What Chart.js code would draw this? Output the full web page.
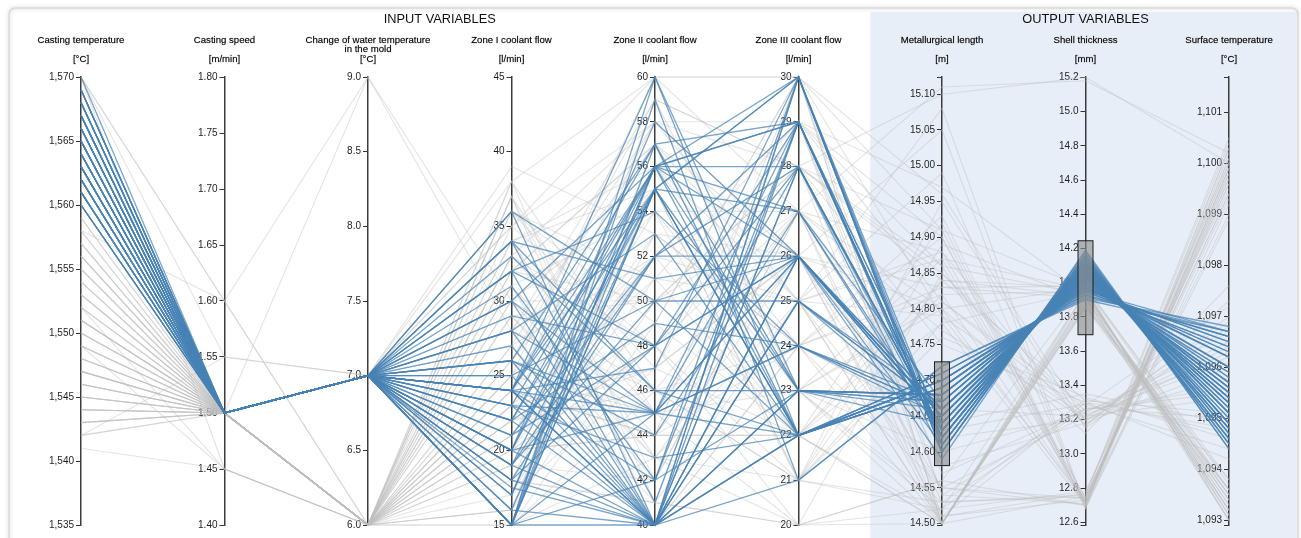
<!DOCTYPE html>
<html>
<head>
<meta charset="utf-8">
<title>Continuous casting – parallel coordinates</title>
<script src="https://cdn.jsdelivr.net/npm/chart.js@4.4.1/dist/chart.umd.min.js"></script>
<style>
  html, body { margin: 0; padding: 0; background: #fff; overflow: hidden; }
  #wrap { width: 1301px; height: 538px; position: relative; }
</style>
</head>
<body>
<div id="wrap"><canvas id="pc" width="1301" height="538"></canvas></div>
<script>
// ---- Axis definitions ----
const axisNames = [
  ['Casting temperature'], ['Casting speed'], ['Change of water temperature', 'in the mold'],
  ['Zone I coolant flow'], ['Zone II coolant flow'], ['Zone III coolant flow'],
  ['Metallurgical length'], ['Shell thickness'], ['Surface temperature']
];
const axisUnits = ['[°C]', '[m/min]', '[°C]', '[l/min]', '[l/min]', '[l/min]', '[m]', '[mm]', '[°C]'];
const axisMin = [1535, 1.40, 6.0, 15, 40, 20, 14.498, 12.584, 1092.91];
const axisMax = [1570, 1.80, 9.0, 45, 60, 30, 15.124, 15.202, 1101.69];
const axisStep = [5, 0.05, 0.5, 5, 2, 1, 0.05, 0.2, 1];
const axisDecimals = [0, 2, 1, 0, 0, 0, 2, 1, 0];
const groupTitles = ['INPUT VARIABLES', 'OUTPUT VARIABLES'];
const inputAxisCount = 6;

// ---- Brushed ranges (selection filters) ----
const metLengthBrush = [14.581, 14.726];
const shellBrush = [13.696, 14.245];

// ---- Records, one value per record and variable ----
const castingTemp = [
  1570,1569,1569,1568,1568,1568,1567,1567,1566,1566,1566,
  1565,1565,1565,1565,1564,1564,1564,1563,1563,1563,1562,
  1562,1562,1561,1561,1561,1560,1560,1560,1569,1568,1567,
  1566,1565,1564,1563,1562,1561,1567,1566,1565,1564,1563,
  1568,1567,1566,1565,1564,1563,1562,1561,1560,1569,1565,
  1570,1570,1570,1570,1559,1558,1557,1556,1556,1553,1552,
  1551,1550,1549,1548,1547,1546,1546,1545,1544,1544,1543,
  1542,1559,1558,1555,1554,1552,1550,1548,1547,1545,1543,
  1541,1553,1551,1549,1546,1544,1542,1557,1555,1552,1548,
  1545,1543,1550,1547,1544,1556,1553,1549,1546,1551,1554,
  1566,1564,1562,1568,1565,1563,1567,1561,1569,1564,1566,1562,1565,1567,1563,
  1557,1554,1551,1549,1547,1545,1543,1552,1556,1548,1544,
  1553,1550,1546,1558,1542,1555,1549,1547,1551,1545,1560
];
const castingSpeed = [
  1.50,1.50,1.50,1.50,1.50,1.50,1.50,1.50,1.50,1.50,1.50,
  1.50,1.50,1.50,1.50,1.50,1.50,1.50,1.50,1.50,1.50,1.50,
  1.50,1.50,1.50,1.50,1.50,1.50,1.50,1.50,1.50,1.50,1.50,
  1.50,1.50,1.50,1.50,1.50,1.50,1.50,1.50,1.50,1.50,1.50,
  1.50,1.50,1.50,1.50,1.50,1.50,1.50,1.50,1.50,1.50,1.50,
  1.60,1.55,1.45,1.60,1.50,1.50,1.50,1.50,1.50,1.50,1.50,
  1.50,1.50,1.50,1.50,1.50,1.50,1.50,1.50,1.50,1.50,1.50,
  1.55,1.50,1.50,1.50,1.50,1.45,1.50,1.50,1.50,1.50,1.50,
  1.45,1.50,1.50,1.50,1.50,1.50,1.50,1.50,1.50,1.50,1.50,
  1.50,1.50,1.50,1.50,1.50,1.50,1.50,1.50,1.50,1.50,1.50,
  1.50,1.50,1.50,1.50,1.50,1.50,1.50,1.50,1.50,1.50,1.50,1.50,1.50,1.50,1.50,
  1.50,1.50,1.50,1.45,1.50,1.50,1.50,1.50,1.50,1.50,1.50,
  1.50,1.50,1.50,1.60,1.50,1.50,1.50,1.50,1.50,1.50,1.50
];
const waterTempChange = [
  7.0,7.0,7.0,7.0,7.0,7.0,7.0,7.0,7.0,7.0,7.0,
  7.0,7.0,7.0,7.0,7.0,7.0,7.0,7.0,7.0,7.0,7.0,
  7.0,7.0,7.0,7.0,7.0,7.0,7.0,7.0,7.0,7.0,7.0,
  7.0,7.0,7.0,7.0,7.0,7.0,7.0,7.0,7.0,7.0,7.0,
  7.0,7.0,7.0,7.0,7.0,7.0,7.0,7.0,7.0,7.0,7.0,
  9.0,7.0,6.0,6.0,6.0,6.0,6.0,6.0,7.0,6.0,6.0,
  7.0,6.0,6.0,6.0,7.0,6.0,6.0,7.0,6.0,6.0,7.0,
  7.0,6.0,7.0,6.0,6.0,6.0,7.0,6.0,6.0,7.0,6.0,
  6.0,7.0,6.0,6.0,7.0,6.0,6.0,9.0,7.0,6.0,6.0,
  7.0,6.0,6.0,7.0,6.0,6.0,7.0,6.0,6.0,7.0,6.0,
  7.0,7.0,7.0,7.0,7.0,7.0,7.0,7.0,7.0,7.0,7.0,7.0,7.0,7.0,7.0,
  6.0,6.0,7.0,6.0,6.0,7.0,6.0,6.0,7.0,6.0,6.0,
  6.0,7.0,6.0,6.0,6.0,7.0,6.0,6.0,7.0,6.0,6.0
];
const zone1Flow = [
  15,15,15,15,15,15,16,17,17.5,18,19,
  19,20,20,20,21,22,22,23,23,23,24,
  24,24,24,24,24,25,25,26,26,27,28,
  28,29,30,30,31,32,32,33,34,34,36,
  36,15,24,20,23,19,22,26,16,18,24,
  30,35,20,38,15,22,27,33,18,29,24,
  36,16,31,25,20,34,19,28,37,23,17,
  32,26,39,21,30,15,35,22,27,18,33,
  24,29,16,37,20,31,25,28,19,36,23,
  17,34,21,30,26,38,15,32,24,20,35,
  28,17,24,20,32,15,26,22,19,30,24,18,15,34,21,
  21,33,27,18,36,24,30,16,38,25,20,
  29,34,22,19,31,26,37,17,28,23,32
];
const zone2Flow = [
  56,55,40,57,45,60,40,56,40,52,40,
  55,45,56,40,48,40,55,45,56,40,40,
  55,45,42,56,40,50,40,57,45,40,53,
  40,48,40,56,42,40,54,46,41,51,40,
  50,59,47,58,43,52,49,44,55,48,60,
  50,58,44,60,46,52,41,48,55,43,58,
  47,50,40,54,44,56,42,59,45,51,47,
  57,40,53,49,55,43,60,46,52,41,58,
  44,50,56,42,48,54,45,57,40,51,47,
  59,43,53,46,55,41,49,57,44,52,48,
  45,56,40,55,48,42,40,56,50,45,57,40,55,46,52,
  54,45,58,41,49,52,43,57,46,60,48,
  42,55,47,51,44,59,40,53,46,56,50
];
const zone3Flow = [
  29,30,26,22,28,23,30,26,22,29,25,
  22,26,30,23,26,29,22,24,28,21,26,
  30,22,29,23,28,22,26,23,29,25,22,
  30,26,22,27,23,28,24,22,29,26,23,
  25,21,30,26,22,28,24,27,23,29,22,
  27,28,24,30,21,25,20,27,23,26,29,
  22,28,24,21,30,25,27,23,20,29,26,
  22,28,24,30,21,25,27,23,29,20,26,
  22,28,24,30,21,27,23,25,29,22,26,
  28,20,24,27,21,25,30,23,26,22,28,
  26,29,23,22,28,30,25,22,26,24,29,22,27,23,26,
  23,27,25,29,22,28,21,26,24,30,20,
  27,23,29,25,22,28,24,26,21,29,25
];
const metLength = [
  14.64,14.62,14.66,14.70,14.63,14.68,14.61,14.65,14.71,14.62,14.67,
  14.69,14.64,14.60,14.68,14.65,14.62,14.70,14.66,14.63,14.72,14.64,
  14.61,14.69,14.62,14.67,14.63,14.70,14.65,14.68,14.62,14.66,14.71,
  14.60,14.64,14.69,14.63,14.67,14.62,14.66,14.70,14.61,14.65,14.68,
  14.64,14.72,14.60,14.65,14.69,14.63,14.67,14.62,14.66,14.61,14.70,
  15.11,15.10,14.82,14.50,14.78,14.50,14.85,14.53,14.80,14.62,14.90,
  14.51,14.84,14.55,14.95,14.50,14.79,14.66,14.87,14.52,14.81,14.50,
  14.92,14.58,14.83,14.54,14.76,14.50,14.88,14.60,14.97,14.56,14.80,
  14.50,14.86,14.64,14.91,14.53,14.77,14.50,14.99,14.57,14.82,14.51,
  14.85,14.50,14.93,14.63,14.89,14.55,14.79,14.52,15.05,14.84,14.50,
  14.59,14.64,14.68,14.71,14.60,14.63,14.66,14.69,14.61,14.65,14.62,14.70,14.67,14.64,14.66,
  14.81,14.50,14.87,14.54,14.78,14.91,14.52,14.83,14.50,14.96,14.56,
  14.80,14.53,14.86,15.08,14.50,14.75,14.90,14.55,14.84,14.51,14.88
];
const shellThickness = [
  14.08,14.12,14.02,13.95,14.10,14.00,14.15,14.05,13.92,14.11,14.03,
  13.98,14.06,14.17,13.99,14.04,14.13,13.96,14.01,14.09,13.90,14.06,
  14.14,13.97,14.12,14.02,14.08,13.94,14.05,14.00,14.11,14.03,13.93,
  14.18,14.07,13.98,14.09,14.01,14.10,14.04,13.95,14.14,14.05,13.99,
  14.06,13.91,14.16,14.04,13.97,14.08,14.02,14.12,14.03,14.13,13.96,
  15.18,15.20,12.72,13.95,12.70,13.90,13.25,12.75,13.97,13.20,12.68,
  13.30,13.92,12.70,13.15,13.85,12.73,13.22,13.96,12.78,13.28,13.94,
  12.69,13.18,13.98,12.71,13.33,13.88,12.74,13.24,13.93,12.70,13.12,
  13.91,12.72,13.35,13.97,12.76,13.20,13.86,12.71,13.26,13.95,12.73,
  13.17,13.92,12.70,13.29,13.90,12.74,13.21,13.94,12.68,13.31,13.87,
  14.19,14.09,14.00,13.93,14.16,14.11,14.04,13.97,14.14,14.07,14.10,13.95,14.02,14.06,14.03,
  13.23,13.89,12.72,13.27,13.95,12.70,13.32,13.91,12.75,13.19,13.96,
  12.71,13.26,13.93,12.69,13.86,13.30,12.74,13.22,13.97,12.77,13.16
];
const surfaceTemp = [
  1095.2,1094.8,1095.6,1096.4,1095.0,1096.0,1094.6,1095.4,1096.7,1094.9,1095.5,
  1096.2,1095.3,1094.5,1095.9,1095.4,1094.7,1096.5,1095.7,1095.1,1096.7,1095.3,
  1094.6,1096.3,1094.8,1095.8,1095.0,1096.6,1095.4,1096.0,1094.9,1095.5,1096.6,
  1094.4,1095.2,1096.2,1095.1,1095.8,1094.9,1095.6,1096.4,1094.7,1095.4,1096.0,
  1095.3,1096.8,1094.5,1095.5,1096.3,1095.1,1095.7,1094.8,1095.6,1094.6,1096.5,
  1100.2,1100.0,1099.6,1093.2,1099.8,1093.4,1096.2,1100.4,1093.6,1095.8,1099.2,
  1094.2,1093.1,1099.9,1096.8,1093.5,1100.1,1095.4,1093.0,1099.5,1097.2,1093.3,
  1098.9,1096.0,1093.7,1100.3,1094.6,1093.2,1099.3,1096.5,1093.4,1100.0,1097.6,
  1093.0,1099.7,1094.9,1093.8,1100.5,1096.3,1093.6,1099.0,1095.6,1093.1,1099.8,
  1097.0,1093.5,1100.2,1094.4,1093.3,1099.4,1096.7,1093.2,1099.9,1095.1,1093.6,
  1094.4,1095.1,1095.9,1096.6,1094.5,1094.9,1095.6,1096.2,1094.7,1095.3,1094.8,1096.7,1095.7,1095.2,1095.5,
  1096.1,1093.4,1099.7,1095.0,1093.2,1100.1,1094.7,1093.6,1099.4,1096.9,1093.1,
  1099.9,1095.5,1093.5,1100.3,1093.8,1094.8,1099.6,1096.4,1093.0,1100.0,1097.3
];

const columns = [castingTemp, castingSpeed, waterTempChange, zone1Flow, zone2Flow,
                 zone3Flow, metLength, shellThickness, surfaceTemp];

// ---- Styling ----
const FONT = "'Liberation Sans', Arial, sans-serif";
const SELECTED = 'rgba(70,130,180,0.72)';
const UNSELECTED = 'rgba(190,190,190,0.42)';

const inRange = (v, r) => v >= r[0] && v <= r[1];
const onStep = (i, value) => {
  const ratio = value / axisStep[i];
  return Math.abs(ratio - Math.round(ratio)) < 0.005;
};

// labels only on whole steps; the axis end ticks stay unlabelled
function formatTick(i, value) {
  if (!onStep(i, value)) return '';
  const v = Math.round(value / axisStep[i]) * axisStep[i];
  if (i === 0 || i === 8) return v.toLocaleString('en-US', { maximumFractionDigits: 0 });
  return v.toFixed(axisDecimals[i]);
}

// step ticks inside the axis range, plus unlabelled end ticks where the range is not on a step
function axisTicks(i) {
  const step = axisStep[i];
  const ticks = [];
  if (!onStep(i, axisMin[i])) ticks.push({ value: axisMin[i] });
  for (let k = Math.ceil(axisMin[i] / step - 1e-6); k * step <= axisMax[i] + step * 1e-6; k++) {
    ticks.push({ value: Math.round(k * step * 1e6) / 1e6 });
  }
  if (!onStep(i, axisMax[i])) ticks.push({ value: axisMax[i] });
  return ticks;
}

// one line per record, mapped onto the shared 0..1 vertical range of the axes
const datasets = [];
for (let r = 0; r < castingTemp.length; r++) {
  const selected = inRange(metLength[r], metLengthBrush) && inRange(shellThickness[r], shellBrush);
  datasets.push({
    data: columns.map((col, i) => ({ x: i, y: (col[r] - axisMin[i]) / (axisMax[i] - axisMin[i]) })),
    borderColor: selected ? SELECTED : UNSELECTED,
    borderWidth: selected ? 1.3 : 1.1,
    pointRadius: 0,
    tension: 0,
    order: selected ? 0 : 1,
    xAxisID: 'x',
    yAxisID: 'yn',
    clip: 4
  });
}

const scales = {
  x: { type: 'linear', min: 0, max: columns.length - 1, display: false },
  yn: { type: 'linear', min: 0, max: 1, display: false }
};
columns.forEach((col, i) => {
  scales['a' + i] = {
    type: 'linear',
    position: 'left',
    bounds: 'data',
    min: axisMin[i],
    max: axisMax[i],
    afterFit(s) { s.width = 0; s.paddingTop = 0; s.paddingBottom = 0; },
    afterBuildTicks(s) { s.ticks = axisTicks(i); },
    ticks: {
      autoSkip: false,
      padding: 2,
      color: '#1e1e1e',
      font: { family: FONT, size: 10 },
      callback: (value) => formatTick(i, value)
    },
    grid: { drawOnChartArea: false, drawTicks: true, tickLength: 5, color: '#333', lineWidth: 1 },
    border: { display: true, color: '#3c3c3c', width: 1.5 }
  };
});

// places each vertical axis on its column position
const axisPlacement = {
  id: 'axisPlacement',
  afterLayout(chart) {
    const xs = chart.scales.x;
    columns.forEach((c, i) => {
      const s = chart.scales['a' + i];
      const px = xs.getPixelForValue(i);
      s.right = px;
      s.left = px - 60;
      s.width = 60;
    });
  }
};

function roundRect(ctx, x, y, w, h, r) {
  ctx.beginPath();
  ctx.moveTo(x + r, y);
  ctx.lineTo(x + w - r, y);
  ctx.quadraticCurveTo(x + w, y, x + w, y + r);
  ctx.lineTo(x + w, y + h - r);
  ctx.quadraticCurveTo(x + w, y + h, x + w - r, y + h);
  ctx.lineTo(x + r, y + h);
  ctx.quadraticCurveTo(x, y + h, x, y + h - r);
  ctx.lineTo(x, y + r);
  ctx.quadraticCurveTo(x, y, x + r, y);
  ctx.closePath();
}

// text with a hairline outline so the small headers read slightly heavier
function heavyText(ctx, text, x, y) {
  ctx.fillText(text, x, y);
  ctx.strokeText(text, x, y);
}

// card, output panel, group headings, axis headers and brushes
const decorations = {
  id: 'decorations',
  beforeDraw(chart) {
    const { ctx, width } = chart;
    const xs = chart.scales.x;
    const px = (i) => xs.getPixelForValue(i);
    ctx.save();
    ctx.fillStyle = '#fff';
    ctx.fillRect(0, 0, width, chart.height);

    ctx.save();
    ctx.shadowColor = 'rgba(0,0,0,0.22)';
    ctx.shadowBlur = 4;
    ctx.strokeStyle = '#dadada';
    ctx.lineWidth = 1.5;
    roundRect(ctx, 9, 8, width - 12, 570, 7);
    ctx.stroke();
    ctx.restore();

    const panelLeft = (px(inputAxisCount - 1) + px(inputAxisCount)) / 2;
    ctx.fillStyle = '#e8eef8';
    ctx.fillRect(panelLeft, 12, width - 4 - panelLeft, chart.height - 12);

    ctx.fillStyle = '#111';
    ctx.textAlign = 'center';
    ctx.textBaseline = 'middle';
    ctx.font = '12.8px ' + FONT;
    ctx.fillText(groupTitles[0], (px(0) + px(inputAxisCount - 1)) / 2, 19);
    ctx.fillText(groupTitles[1], (px(inputAxisCount) + px(columns.length - 1)) / 2, 19);

    ctx.fillStyle = '#000';
    ctx.strokeStyle = 'rgba(0,0,0,0.45)';
    ctx.lineWidth = 0.35;
    ctx.font = '9.6px ' + FONT;
    axisNames.forEach((lines, i) => {
      lines.forEach((ln, k) => heavyText(ctx, ln, px(i), 40 + k * 9));
      heavyText(ctx, axisUnits[i], px(i), 59);
    });
    ctx.restore();
  },
  afterDatasetsDraw(chart) {
    const { ctx } = chart;
    const xs = chart.scales.x;
    const brush = (i, range) => {
      const s = chart.scales['a' + i];
      const x = xs.getPixelForValue(i);
      const yTop = s.getPixelForValue(range[1]);
      const yBot = s.getPixelForValue(range[0]);
      ctx.save();
      ctx.fillStyle = 'rgba(140,140,140,0.62)';
      ctx.fillRect(x - 7.5, yTop, 15, yBot - yTop);
      ctx.strokeStyle = '#1e1e1e';
      ctx.lineWidth = 1;
      ctx.strokeRect(x - 7.5, yTop, 15, yBot - yTop);
      ctx.restore();
    };
    brush(6, metLengthBrush);
    brush(7, shellBrush);
  }
};

new Chart(document.getElementById('pc'), {
  type: 'line',
  data: { datasets },
  options: {
    responsive: false,
    animation: false,
    events: [],
    layout: { padding: { left: 81, right: 72, top: 77, bottom: 13 } },
    plugins: { legend: { display: false }, tooltip: { enabled: false }, title: { display: false } },
    scales
  },
  plugins: [axisPlacement, decorations]
});
</script>
</body>
</html>
